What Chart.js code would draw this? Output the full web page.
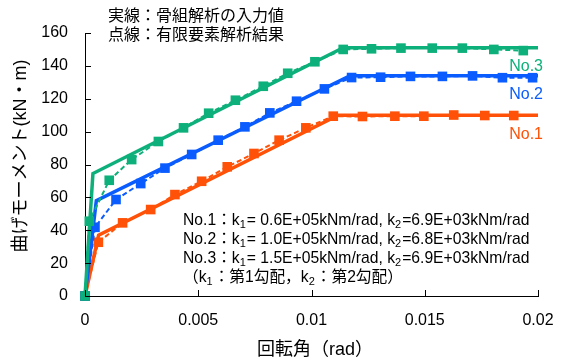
<!DOCTYPE html>
<html>
<head>
<meta charset="utf-8">
<script src="https://cdn.jsdelivr.net/npm/chart.js@4.4.1/dist/chart.umd.min.js"></script>
<style>
  html, body { margin: 0; padding: 0; background: #fff; }
  #wrap { width: 561px; height: 363px; position: relative; }
</style>
</head>
<body>
<div id="wrap"><canvas id="c" width="561" height="363"></canvas></div>
<script>
// Rotation angle (rad) vs bending moment (kN·m)

// Frame-analysis input (trilinear skeleton curves)
const skelX1 = [0, 0.0006, 0.01118, 0.02];
const skelY1 = [0, 37, 110, 110];
const skelX2 = [0, 0.0005, 0.0117, 0.02];
const skelY2 = [0, 58, 134, 134];
const skelX3 = [0, 0.00035, 0.0114, 0.02];
const skelY3 = [0, 74.5, 151, 151];

// Finite-element results
const femX1 = [0, 0.00059, 0.00166, 0.0029, 0.00397, 0.00515, 0.00628, 0.00746, 0.00857, 0.00975, 0.01096, 0.01225, 0.01368, 0.01496, 0.01628, 0.01765, 0.01893];
const femY1 = [0, 32.7, 44.5, 52.6, 61.7, 69.8, 78.6, 86.7, 94.8, 102.3, 109.4, 109.2, 109.4, 109.4, 110.1, 109.8, 109.8];
const femX2 = [0, 0.00044, 0.00137, 0.00246, 0.00353, 0.00471, 0.00588, 0.00706, 0.00816, 0.00934, 0.01057, 0.01177, 0.01305, 0.01437, 0.01578, 0.01711, 0.01843, 0.01976];
const femY2 = [0, 41.8, 58.7, 68.4, 77.8, 86.1, 94.8, 102.9, 111.4, 118.5, 126, 132.9, 133.1, 133.6, 133.6, 133.9, 132.8, 132.8];
const femX3 = [0, 0.00019, 0.00107, 0.00206, 0.00324, 0.00435, 0.00546, 0.00664, 0.00787, 0.00895, 0.01015, 0.0114, 0.01265, 0.01395, 0.01533, 0.01666, 0.01805, 0.01935];
const femY3 = [0, 45.5, 70.4, 83, 94, 102.3, 111.2, 119.1, 127.6, 135.5, 142.5, 150, 150.4, 150.8, 150.8, 150.8, 150, 149.3];

const seriesNames = ['No.1', 'No.2', 'No.3'];
const xTickValues = [0, 0.005, 0.01, 0.015, 0.02];
const xTickLabels = ['0', '0.005', '0.01', '0.015', '0.02'];
const yTickValues = [0, 20, 40, 60, 80, 100, 120, 140, 160];

const legendLines = ['実線：骨組解析の入力値', '点線：有限要素解析結果'];
const noteRows = [
  ['No.1：k', '1', '= 0.6E+05kNm/rad, k', '2', '=6.9E+03kNm/rad'],
  ['No.2：k', '1', '= 1.0E+05kNm/rad, k', '2', '=6.8E+03kNm/rad'],
  ['No.3：k', '1', '= 1.5E+05kNm/rad, k', '2', '=6.9E+03kNm/rad'],
  ['（k', '1', '：第1勾配，k', '2', '：第2勾配）']
];
const xTitle = '回転角（rad）';
const yTitle = '曲げモーメント(kN・m)';

const COLORS = ['#ff5208', '#0a5cff', '#0db07a'];
const FONT = '"Liberation Sans", Arial, "Noto Sans CJK JP", sans-serif';

const pts = (xs, ys) => xs.map((x, i) => ({ x: x, y: ys[i] }));

function skel(xs, ys, c) {
  return { data: pts(xs, ys), borderColor: c, backgroundColor: c, borderWidth: 3.5,
           pointRadius: 0, tension: 0, fill: false, clip: false };
}
function fem(xs, ys, c) {
  return { data: pts(xs, ys), borderColor: c, backgroundColor: c, borderWidth: 2,
           borderDash: [5, 3], pointStyle: 'rect', pointRadius: 6.8, pointBorderWidth: 0,
           pointHoverRadius: 6.8, tension: 0, fill: false, clip: false };
}

// First dataset is painted last, so No.3 sits on top
const datasets = [
  fem(femX3, femY3, COLORS[2]), skel(skelX3, skelY3, COLORS[2]),
  fem(femX2, femY2, COLORS[1]), skel(skelX2, skelY2, COLORS[1]),
  fem(femX1, femY1, COLORS[0]), skel(skelX1, skelY1, COLORS[0])
];

const decor = {
  id: 'decor',
  afterDraw(chart) {
    const ctx = chart.ctx;
    const xs = chart.scales.x, ys = chart.scales.y;
    const a = chart.chartArea;
    ctx.save();
    // inward tick marks
    ctx.strokeStyle = '#000';
    ctx.lineWidth = 1;
    ctx.beginPath();
    yTickValues.forEach(v => {
      const py = Math.round(ys.getPixelForValue(v)) + 0.5;
      ctx.moveTo(a.left, py); ctx.lineTo(a.left + 6, py);
    });
    xTickValues.forEach(v => {
      const px = Math.round(xs.getPixelForValue(v)) + 0.5;
      ctx.moveTo(px, a.bottom); ctx.lineTo(px, a.bottom - 6);
    });
    ctx.stroke();

    // header lines
    ctx.fillStyle = '#000';
    ctx.textBaseline = 'middle';
    ctx.textAlign = 'left';
    ctx.font = '16px ' + FONT;
    legendLines.forEach((t, i) => ctx.fillText(t, 108, 17 + i * 18.5));

    // parameter notes with subscripts
    noteRows.forEach((row, i) => {
      let x = 183;
      const y = 221 + i * 19;
      row.forEach((part, j) => {
        const sub = j % 2 === 1;
        ctx.font = (sub ? '11px ' : '15.7px ') + FONT;
        ctx.fillText(part, x, sub ? y + 4 : y);
        x += ctx.measureText(part).width + (sub ? 1 : 0);
      });
    });

    // series names at the right end
    ctx.textAlign = 'right';
    ctx.font = '16px ' + FONT;
    const lastY = [skelY1[skelY1.length - 1], skelY2[skelY2.length - 1], skelY3[skelY3.length - 1]];
    seriesNames.forEach((n, i) => {
      ctx.fillStyle = COLORS[i];
      ctx.fillText(n, 543, ys.getPixelForValue(lastY[i]) + 19);
    });

    // axis titles
    ctx.fillStyle = '#000';
    ctx.font = '18px ' + FONT;
    ctx.textAlign = 'left';
    ctx.fillText(xTitle, 257, 350);
    ctx.save();
    ctx.translate(21, 156);
    ctx.rotate(-Math.PI / 2);
    ctx.textAlign = 'center';
    ctx.fillText(yTitle, 0, 0);
    ctx.restore();
    ctx.restore();
  }
};

new Chart(document.getElementById('c'), {
  type: 'line',
  data: { datasets: datasets },
  options: {
    responsive: false,
    animation: false,
    events: [],
    layout: { padding: { top: 33, right: 23, left: 0, bottom: 0 } },
    plugins: { legend: { display: false }, tooltip: { enabled: false } },
    scales: {
      x: {
        type: 'linear', min: 0, max: 0.02,
        afterFit(s) { s.height = 67; s.paddingLeft = 0; s.paddingRight = 0; },
        afterBuildTicks(s) { s.ticks = xTickValues.map(v => ({ value: v })); },
        grid: { display: true, drawOnChartArea: false, drawTicks: false },
        border: { display: true, color: '#000', width: 1 },
        ticks: {
          padding: 15, color: '#000', font: { size: 16, family: FONT }, maxRotation: 0,
          callback: (v, i) => xTickLabels[i]
        }
      },
      y: {
        type: 'linear', min: 0, max: 160,
        afterFit(s) { s.width = 85; s.paddingTop = 0; s.paddingBottom = 0; },
        afterBuildTicks(s) { s.ticks = yTickValues.map(v => ({ value: v })); },
        grid: { display: true, drawOnChartArea: false, drawTicks: false },
        border: { display: true, color: '#000', width: 1 },
        ticks: {
          padding: 17, color: '#000', font: { size: 16, family: FONT },
          callback: v => String(v)
        }
      }
    }
  },
  plugins: [decor]
});
</script>
</body>
</html>
